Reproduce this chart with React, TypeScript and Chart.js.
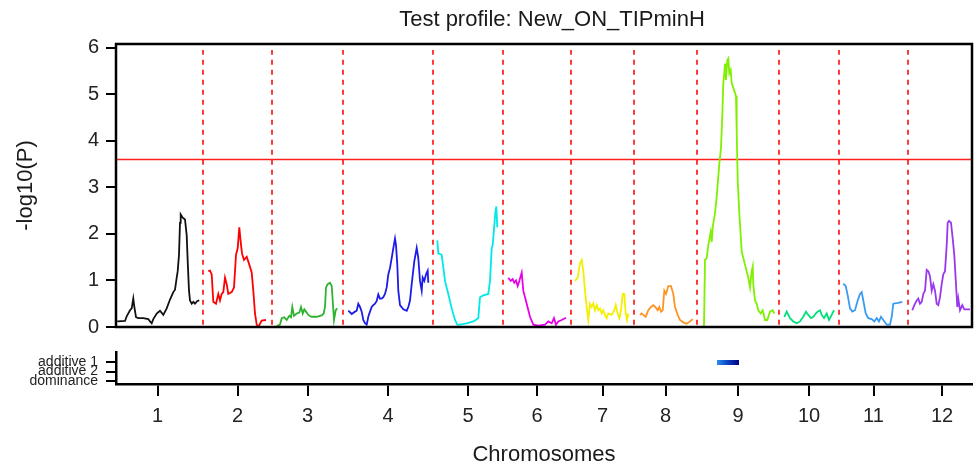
import React, { useEffect, useRef } from "react";
import { Chart, registerables } from "chart.js";

Chart.register(...registerables);

const FONT = "'Liberation Sans', Arial, sans-serif";
Chart.defaults.font.family = FONT;

const chartTitle = "Test profile: New_ON_TIPminH";
const yAxisTitle = "-log10(P)";
const xAxisTitle = "Chromosomes";

const chromosomeLabels = ["1", "2", "3", "4", "5", "6", "7", "8", "9", "10", "11", "12"];
const chromosomeLengths = [91, 69, 71, 90, 70, 68, 63, 63, 82, 60, 69, 68];
const chromosomeColors = [
  "#111111", "#ff0000", "#2fb22f", "#1c1ce8", "#00e8e8", "#e800e8",
  "#f2f000", "#ff9424", "#7ff000", "#00e07a", "#3a9cf0", "#9a38ee",
];

const yTickValues = [0, 1, 2, 3, 4, 5, 6];
const threshold = 3.6;

// [position within chromosome (cM), -log10(P)]
const chr1: [number, number][] = [[5.3,0.12],[13,0.13],[14.7,0.23],[18,0.36],[19.7,0.4],[21.3,0.61],[22.3,0.44],[24,0.21],[26.3,0.19],[31.3,0.19],[36.3,0.17],[38,0.12],[39.7,0.08],[41.3,0.17],[44.7,0.29],[48,0.35],[51.3,0.26],[54.7,0.4],[58,0.59],[61.3,0.75],[63,0.8],[64.7,1.06],[65.7,1.2],[67,1.55],[68,2.24],[68.7,2.42],[70.7,2.35],[73,2.31],[74.7,1.97],[75.7,1.41],[77,0.78],[78,0.57],[79.7,0.5],[81.3,0.54],[83,0.5],[85.3,0.56],[87.3,0.57]];
const chr2: [number, number][] = [[5.3,1.2],[7,1.21],[8.7,1.13],[10.3,0.54],[13,0.5],[15.3,0.71],[17,0.57],[18.7,0.71],[20.3,0.75],[22,1.06],[23.7,0.92],[25.3,0.71],[28.7,0.75],[31,0.85],[33,1.55],[34.7,1.69],[36.3,2.14],[37.7,1.83],[39,1.58],[41,1.44],[43.7,1.51],[46.3,1.34],[48.7,1.17],[50.3,0.78],[52,0.29],[53.7,0.05],[55.3,0.0],[56.5,0.05],[58.7,0.14],[63,0.15]];
const chr3: [number, number][] = [[4.7,0.02],[8,0.05],[9.7,0.19],[12.3,0.21],[14.7,0.15],[17.3,0.24],[19,0.21],[20.3,0.43],[22,0.24],[24.7,0.29],[27.3,0.31],[29,0.43],[30.7,0.29],[32.3,0.38],[34,0.33],[35.7,0.28],[37.3,0.24],[39.7,0.22],[44.7,0.22],[49.7,0.25],[51.7,0.29],[53,0.43],[54,0.85],[55.7,0.92],[58,0.95],[59.7,0.88],[60.7,0.57],[62,0.15],[63.7,0.36],[65.3,0.4]];
const chr4: [number, number][] = [[5.3,0.35],[8.7,0.28],[12,0.33],[13.7,0.35],[15.3,0.5],[17,0.43],[18.7,0.33],[20.3,0.15],[22,0.08],[23.7,0.05],[25.3,0.22],[27,0.33],[28.7,0.43],[30.3,0.47],[32,0.5],[33.7,0.56],[35.3,0.7],[37,0.61],[38.7,0.61],[40.3,0.64],[42,0.71],[43.7,0.85],[45.3,1.13],[47,1.27],[48.7,1.48],[50.3,1.69],[52,1.9],[53,1.76],[54.3,1.34],[55.3,0.78],[57,0.47],[60.3,0.38],[63.7,0.35],[65.3,0.43],[67,0.57],[68.7,0.92],[71.3,1.41],[73.7,1.7],[75.3,1.48],[77,0.99],[78.7,0.78],[79.7,1.06],[81.3,0.99],[83,1.13],[84.7,1.21],[85.3,0.95]];
const chr5: [number, number][] = [[4.3,1.86],[5.3,1.58],[8.7,1.55],[12,0.99],[15.3,0.71],[18.7,0.4],[22,0.15],[24.3,0.05],[27,0.05],[33.7,0.08],[40.3,0.12],[45.3,0.19],[47,0.64],[50.3,0.68],[55.3,0.71],[57,0.99],[58.7,1.69],[59.7,1.76],[61,2.1],[62.3,2.45],[63.3,2.59],[64.3,2.14]];
const chr6: [number, number][] = [[5.3,1.06],[7.7,0.99],[9.7,1.03],[11.3,0.95],[13,1.0],[14.7,0.88],[16.3,0.99],[18.7,1.17],[20.3,0.78],[23.7,0.5],[27,0.22],[30.3,0.05],[35.3,0.03],[42,0.05],[45.3,0.12],[48.7,0.08],[51,0.19],[53,0.05],[55.3,0.12],[58.7,0.15],[63,0.2]];
const chr7: [number, number][] = [[4,0.99],[6.7,1.06],[9,1.37],[10.7,1.44],[12.3,1.2],[14,0.78],[15.7,0.43],[17.3,0.15],[19,0.5],[20.7,0.43],[22.3,0.51],[24,0.36],[25.7,0.47],[27.3,0.36],[29,0.4],[30.7,0.29],[32.3,0.36],[34,0.26],[35.7,0.19],[37.3,0.29],[40.7,0.26],[43.3,0.36],[44.7,0.47],[46.7,0.29],[48.3,0.19],[50,0.36],[51.7,0.71],[53.3,0.71],[54.7,0.29],[56,0.15],[57.3,0.29]];
const chr8: [number, number][] = [[6,0.26],[7.7,0.29],[9.3,0.26],[11.7,0.22],[14.3,0.36],[17,0.43],[19.3,0.47],[21.7,0.42],[23.7,0.36],[25.3,0.43],[27,0.33],[28.7,0.36],[30.3,0.78],[32,0.71],[34.3,0.88],[37,0.88],[39.3,0.71],[41,0.43],[43.7,0.26],[46,0.15],[49.3,0.1],[52.7,0.07],[56,0.12],[58.7,0.17]];
const chr9: [number, number][] = [[7,0],[8,1.44],[9.7,1.48],[11.3,1.76],[13.7,2.04],[14.7,1.83],[15.7,2.14],[18,2.45],[19.7,2.8],[22.3,3.5],[24,3.85],[25.3,4.55],[26.3,5.24],[27.3,5.45],[28,5.66],[29,5.31],[30.3,5.73],[31.3,5.77],[32.3,5.45],[33.7,5.52],[34.7,5.24],[38,5.03],[39,4.96],[39.7,4.2],[40.7,3.15],[42.3,2.45],[44.7,1.62],[48,1.34],[51.3,1.06],[53,0.85],[54.7,1.2],[55.7,1.3],[56.3,0.92],[58,0.57],[59.7,0.5],[61.3,0.36],[63.7,0.29],[65.7,0.36],[68,0.15],[70.3,0.15],[73,0.33],[75.7,0.36],[77.3,0.29]];
const chr10: [number, number][] = [[5.3,0.22],[7.7,0.33],[11,0.19],[14.3,0.12],[17.7,0.08],[21,0.12],[24.3,0.22],[27,0.33],[29.3,0.26],[32,0.19],[34.3,0.22],[36.7,0.29],[38.7,0.33],[41,0.36],[42.7,0.26],[45,0.19],[47.7,0.29],[50,0.15],[52.7,0.26],[55,0.36]];
const chr11: [number, number][] = [[4.3,0.93],[6.7,0.88],[8.7,0.68],[11,0.4],[13.3,0.33],[16,0.36],[18.7,0.57],[21,0.71],[22.7,0.75],[24.3,0.57],[26.7,0.29],[29.3,0.19],[32.7,0.17],[35.3,0.12],[37.7,0.19],[40,0.12],[42,0.22],[44.3,0.15],[47.7,0.05],[51,0.05],[52.7,0.22],[54.3,0.5],[56,0.51],[59.3,0.52],[63.3,0.54]];
const chr12: [number, number][] = [[4.3,0.36],[6.3,0.47],[8.7,0.57],[10.3,0.61],[12,0.5],[13.7,0.54],[15.3,0.71],[17,0.78],[18.7,1.23],[20.3,1.2],[22,1.09],[23.7,0.78],[25.3,0.92],[27,0.78],[28.7,0.5],[30.3,0.47],[32,0.64],[33.7,0.92],[35.3,1.13],[37,1.2],[38.7,1.76],[39.7,2.24],[41,2.28],[43,2.24],[44.7,1.9],[46.3,1.55],[48,0.92],[49.3,0.43],[50.3,0.61],[52,0.36],[54.3,0.47],[56.3,0.38],[59.7,0.38],[62,0.38]];

const profiles = [chr1, chr2, chr3, chr4, chr5, chr6, chr7, chr8, chr9, chr10, chr11, chr12];

// lower panel: QTL effect rows and the significant region
const effectRows = ["additive 1", "additive 2", "dominance"];
const effectChromosome = "9";
const effectRow = "additive 1";
const effectStart = 20; // cM within chromosome
const effectEnd = 42;

// axis extent (cumulative cM)
const X_MIN = 4;
const X_MAX = 860;
const Y_MAX = 6.08;

const chromStarts: number[] = [];
chromosomeLengths.reduce((acc, len) => {
  chromStarts.push(acc);
  return acc + len;
}, 0);
const chromMids = chromosomeLengths.map((len, i) => chromStarts[i] + len / 2);
const boundaries = chromStarts.slice(1);

const rowValue = (label: string) => effectRows.length - 1 - effectRows.indexOf(label);

const titlePlugin = {
  id: "profileTitle",
  afterDraw(chart: any) {
    const { ctx, chartArea } = chart;
    ctx.save();
    ctx.font = `22px ${FONT}`;
    ctx.fillStyle = "#1a1a1a";
    ctx.textAlign = "center";
    ctx.textBaseline = "middle";
    ctx.fillText(chartTitle, (chartArea.left + chartArea.right) / 2 + 8, chartArea.top - 24);
    ctx.restore();
  },
};

const framePlugin = {
  id: "frame",
  afterDraw(chart: any) {
    const { ctx, chartArea } = chart;
    ctx.save();
    ctx.strokeStyle = "#000";
    ctx.lineWidth = 2.5;
    ctx.strokeRect(chartArea.left, chartArea.top, chartArea.right - chartArea.left, chartArea.bottom - chartArea.top);
    ctx.restore();
  },
};

export default function App() {
  const topRef = useRef<HTMLCanvasElement>(null);
  const bottomRef = useRef<HTMLCanvasElement>(null);

  useEffect(() => {
    if (!topRef.current || !bottomRef.current) return;

    const profileSets = profiles.map((p, i) => ({
      label: `Chr ${chromosomeLabels[i]}`,
      data: p.map(([pos, v]) => ({ x: chromStarts[i] + pos, y: v })),
      borderColor: chromosomeColors[i],
      borderWidth: 1.8,
      pointRadius: 0,
      tension: 0,
      fill: false,
    }));

    const top = new Chart(topRef.current, {
      type: "line",
      data: {
        datasets: [
          ...profileSets,
          {
            label: "threshold",
            data: [{ x: X_MIN, y: threshold }, { x: X_MAX, y: threshold }],
            borderColor: "#ff1f1f",
            borderWidth: 1.5,
            pointRadius: 0,
          },
          {
            label: "separators",
            data: boundaries.flatMap((b) => [{ x: b, y: 0.05 }, { x: b, y: 5.95 }, { x: b, y: null }]),
            borderColor: "#ff3a3a",
            borderWidth: 2,
            borderDash: [5, 5],
            pointRadius: 0,
            spanGaps: false,
          },
        ] as any,
      },
      options: {
        responsive: false,
        animation: false,
        layout: { padding: { left: 10, right: 2, top: 44, bottom: 12 } },
        plugins: { legend: { display: false }, tooltip: { enabled: false }, title: { display: false } },
        scales: {
          x: { type: "linear", min: X_MIN, max: X_MAX, display: false },
          y: {
            min: 0,
            max: Y_MAX,
            afterFit: (s: any) => { s.width = 106; },
            afterBuildTicks: (s: any) => { s.ticks = yTickValues.map((v) => ({ value: v })); },
            ticks: { font: { size: 20 }, color: "#222", padding: 7 },
            grid: { drawOnChartArea: false, drawTicks: true, tickLength: 10, color: "#000", lineWidth: 2 },
            border: { display: false },
            title: { display: true, text: yAxisTitle, font: { size: 22 }, color: "#1a1a1a", padding: { top: 3, bottom: 0 } },
          },
        },
      } as any,
      plugins: [titlePlugin, framePlugin],
    });

    const chrIdx = chromosomeLabels.indexOf(effectChromosome);
    const effStartX = chromStarts[chrIdx] + effectStart;
    const effEndX = chromStarts[chrIdx] + effectEnd;

    const bottom = new Chart(bottomRef.current, {
      type: "line",
      data: {
        datasets: [
          {
            label: `${effectRow} effect`,
            data: [{ x: effStartX, y: rowValue(effectRow) }, { x: effEndX, y: rowValue(effectRow) }],
            borderColor: (c: any) => {
              const chart = c.chart;
              const xs = chart.scales?.x;
              if (!chart.chartArea || !xs) return "#0a3fc0";
              const g = chart.ctx.createLinearGradient(xs.getPixelForValue(effStartX), 0, xs.getPixelForValue(effEndX), 0);
              g.addColorStop(0, "#2d8ff0");
              g.addColorStop(0.45, "#0b48c8");
              g.addColorStop(1, "#000080");
              return g;
            },
            borderWidth: 5,
            pointRadius: 0,
          },
        ] as any,
      },
      options: {
        responsive: false,
        animation: false,
        layout: { padding: { left: 0, right: 2, top: 10, bottom: 0 } },
        plugins: { legend: { display: false }, tooltip: { enabled: false } },
        scales: {
          x: {
            type: "linear",
            min: X_MIN,
            max: X_MAX,
            afterBuildTicks: (s: any) => { s.ticks = chromMids.map((v) => ({ value: v })); },
            afterFit: (s: any) => { s.height = 84; },
            ticks: {
              callback: (_v: any, i: number) => chromosomeLabels[i],
              font: { size: 20 },
              color: "#222",
              padding: 8,
              maxRotation: 0,
              autoSkip: false,
            },
            grid: { drawOnChartArea: false, drawTicks: true, tickLength: 12, color: "#000", lineWidth: 2 },
            border: { color: "#000", width: 2.5 },
            title: { display: true, text: xAxisTitle, font: { size: 22 }, color: "#1a1a1a", padding: { top: 0, bottom: 0 } },
          },
          y: {
            min: -0.36,
            max: 3.09,
            afterBuildTicks: (s: any) => { s.ticks = effectRows.map((r) => ({ value: rowValue(r) })); },
            afterFit: (s: any) => { s.width = 116; },
            ticks: {
              callback: (v: any) => effectRows[effectRows.length - 1 - v],
              font: { size: 14 },
              color: "#222",
              padding: 8,
              autoSkip: false,
            },
            grid: { drawOnChartArea: false, drawTicks: true, tickLength: 10, color: "#000", lineWidth: 2 },
            border: { color: "#000", width: 2.5 },
          },
        },
      } as any,
    });

    return () => {
      top.destroy();
      bottom.destroy();
    };
  }, []);

  return (
    <div style={{ position: "fixed", left: 0, top: 0, width: 974, height: 468, background: "#fff" }}>
      <canvas ref={topRef} width={974} height={346} style={{ position: "absolute", left: 0, top: 0 }} />
      <canvas ref={bottomRef} width={974} height={132} style={{ position: "absolute", left: 0, top: 336 }} />
    </div>
  );
}
